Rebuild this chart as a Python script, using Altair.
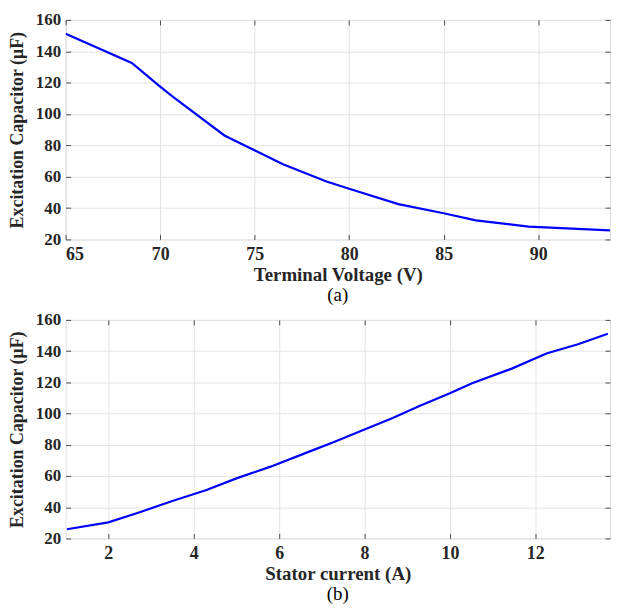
import altair as alt
import pandas as pd

# Panel (a): excitation capacitor vs terminal voltage
volt = [65.0, 68.5, 70.0, 70.7, 73.4, 76.5, 78.8, 80.0, 82.6, 85.0, 86.7, 89.5, 93.8]
cap_a = [151.2, 132.5, 117.5, 110.8, 86.3, 68.0, 57.0, 52.3, 42.5, 36.7, 32.2, 28.2, 25.8]

# Panel (b): excitation capacitor vs stator current
curr = [1.03, 2.0, 2.7, 3.5, 4.3, 5.0, 5.8, 6.6, 7.3, 8.0, 8.66, 9.3, 10.0, 10.52, 11.45, 12.26, 13.0, 13.7]
cap_b = [25.9, 30.3, 36.5, 44.0, 51.0, 58.5, 66.0, 74.5, 82.0, 89.8, 97.2, 105.0, 113.0, 119.5, 128.8, 138.5, 144.4, 151.2]

xticks_a = [65, 70, 75, 80, 85, 90]
xticks_b = [2, 4, 6, 8, 10, 12]
yticks = [20, 40, 60, 80, 100, 120, 140, 160]

FONT = "Liberation Serif"
TXT = "#262626"
GRID = "#e3e3e3"
BOX = "#4d4d4d"

df_a = pd.DataFrame({"x": volt, "y": cap_a})
df_b = pd.DataFrame({"x": curr, "y": cap_b})


def panel(df, xdom, xticks, xtitle, label, w, h, ytp):
    xs = alt.Scale(domain=xdom, nice=False, zero=False)
    ys = alt.Scale(domain=[20, 160], nice=False, zero=False)
    base = alt.Chart(df)
    line = base.mark_line(color="#0000ff", strokeWidth=2.2, clip=True).encode(
        x=alt.X("x:Q", scale=xs, axis=alt.Axis(
            values=xticks, title=xtitle, grid=True, gridColor=GRID,
            domain=False, ticks=True, tickSize=5, offset=-5, tickColor=BOX,
            labelPadding=6, labelFont=FONT, labelFontSize=18, labelFontWeight="bold",
            labelColor=TXT, titleFont=FONT, titleFontSize=19, titleFontWeight="bold",
            titleColor=TXT, titlePadding=2)),
        y=alt.Y("y:Q", scale=ys, axis=alt.Axis(
            values=yticks, title="Excitation Capacitor (μF)", grid=True, gridColor=GRID,
            domain=False, ticks=True, tickSize=5, offset=-5, tickColor=BOX,
            labelPadding=5, labelFont=FONT, labelFontSize=17, labelFontWeight="bold",
            labelColor=TXT, titleFont=FONT, titleFontSize=18, titleFontWeight="bold",
            titleColor=TXT, titlePadding=ytp)),
    )
    top = base.mark_line(opacity=0).encode(
        x=alt.X("x:Q", scale=xs, axis=alt.Axis(
            orient="top", values=xticks, labels=False, title=None, grid=False,
            domain=False, tickSize=5, offset=-5, tickColor=BOX)),
        y=alt.Y("y:Q", scale=ys, axis=alt.Axis(
            orient="right", values=yticks, labels=False, title=None, grid=False,
            domain=False, tickSize=5, offset=-5, tickColor=BOX)),
    )
    return alt.layer(line, top).resolve_axis(x="independent", y="independent").properties(
        width=w, height=h,
        title=alt.TitleParams(label, orient="bottom", font=FONT, fontSize=19,
                              fontWeight="normal", color="#000000", offset=2),
    )


pa = panel(df_a, [65, 93.8], xticks_a, "Terminal Voltage (V)", "(a)", 548, 221, 9)
pb = panel(df_b, [1.0, 13.75], xticks_b, "Stator current (A)", "(b)", 548, 220, 9)

chart = alt.vconcat(pa, pb, spacing=4).properties(padding={"left": 0, "top": 0, "right": 0, "bottom": 0}).configure_view(
    stroke=BOX, strokeWidth=1.2
).configure(background="white")

chart.save("out.html", embed_options={"renderer": "svg", "actions": False})
